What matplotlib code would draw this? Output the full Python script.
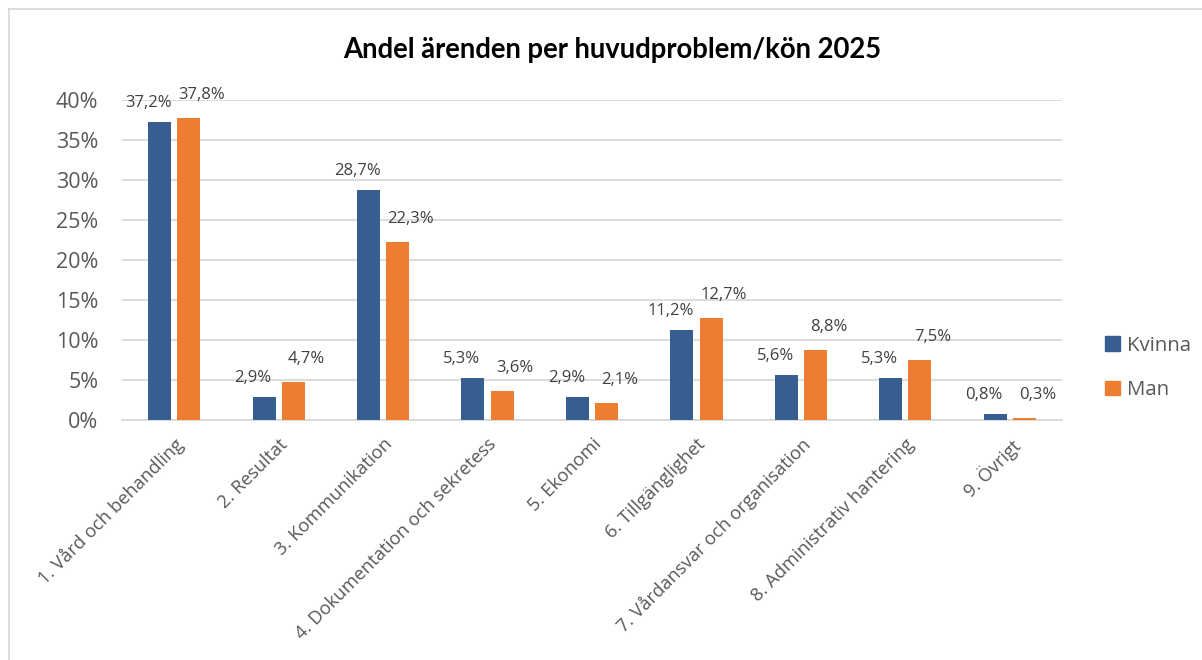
import matplotlib
matplotlib.use("Agg")
import matplotlib.pyplot as plt
import numpy as np
from matplotlib.patches import Rectangle
from matplotlib.lines import Line2D

categories = ["1. Vård och behandling", "2. Resultat", "3. Kommunikation",
              "4. Dokumentation och sekretess", "5. Ekonomi", "6. Tillgänglighet",
              "7. Vårdansvar och organisation", "8. Administrativ hantering", "9. Övrigt"]
kvinna = [37.2, 2.9, 28.7, 5.3, 2.9, 11.2, 5.6, 5.3, 0.8]
man = [37.8, 4.7, 22.3, 3.6, 2.1, 12.7, 8.8, 7.5, 0.3]
series_names = ["Kvinna", "Man"]
title = "Andel ärenden per huvudproblem/kön 2025"
yticks = [0, 5, 10, 15, 20, 25, 30, 35, 40]

plt.rcParams['font.family'] = ['Open Sans', 'DejaVu Sans']

W, H = 1202, 660
fig = plt.figure(figsize=(W / 100, H / 100), dpi=100)
ax = fig.add_axes([122 / W, 1 - 420 / H, 940 / W, 320 / H])

blue = "#375E91"
orange = "#ED7D31"
x = np.arange(len(categories))
bw = 0.22
gap = 0.06
b1 = ax.bar(x - (bw + gap) / 2, kvinna, bw, color=blue, zorder=3)
b2 = ax.bar(x + (bw + gap) / 2, man, bw, color=orange, zorder=3)

def fmt(v):
    return f"{v:.1f}".replace(".", ",") + "%"

px = 72 / 100  # points per pixel
for bars, vals, dx, dy in [(b1, kvinna, -11, 19), (b2, man, 13, 23)]:
    for r, v in zip(bars, vals):
        ax.annotate(fmt(v), (r.get_x() + r.get_width() / 2, v),
                    xytext=(dx * px, dy * px), textcoords="offset points",
                    ha="center", va="center", fontsize=12, color="#404040", zorder=4)

ax.set_xlim(-0.5, len(categories) - 0.5)
ax.set_ylim(0, 40)
ax.set_yticks(yticks)
ax.set_yticklabels([f"{t}%" for t in yticks], fontsize=15.5, color="#595959")
ax.tick_params(axis="y", length=0, pad=17)
ax.set_xticks(x)
ax.set_xticklabels(categories, rotation=45, ha="right", va="top", rotation_mode="anchor",
                   fontsize=13.2, color="#595959")
ax.tick_params(axis="x", length=0, pad=11)
ax.grid(axis="y", color="#D9D9D9", linewidth=1.3, zorder=0)
for s in ["top", "right", "left"]:
    ax.spines[s].set_visible(False)
ax.spines["bottom"].set_color("#D9D9D9")
ax.spines["bottom"].set_linewidth(1.3)

fig.text(612 / W, 1 - 50 / H, title, ha="center", va="center",
         fontsize=19.8, fontweight="bold", color="black", family=["Lato", "DejaVu Sans"])

# legend
handles = [Rectangle((0, 0), 1, 1, color=blue), Rectangle((0, 0), 1, 1, color=orange)]
fig.legend(handles, series_names, loc="center left", bbox_to_anchor=(1087 / W, 1 - 368 / H),
           frameon=False, fontsize=14.7, labelcolor="#595959", handlelength=0.7,
           handleheight=0.7, handletextpad=0.35, labelspacing=1.2)

# chart border (left and top)
fig.add_artist(Line2D([8.5 / W, 8.5 / W], [0, 1 - 9 / H], color="#D9D9D9", linewidth=1.3))
fig.add_artist(Line2D([8.5 / W, 1], [1 - 9 / H, 1 - 9 / H], color="#D9D9D9", linewidth=1.3))

fig.savefig("out.png", dpi=100, facecolor="white")
